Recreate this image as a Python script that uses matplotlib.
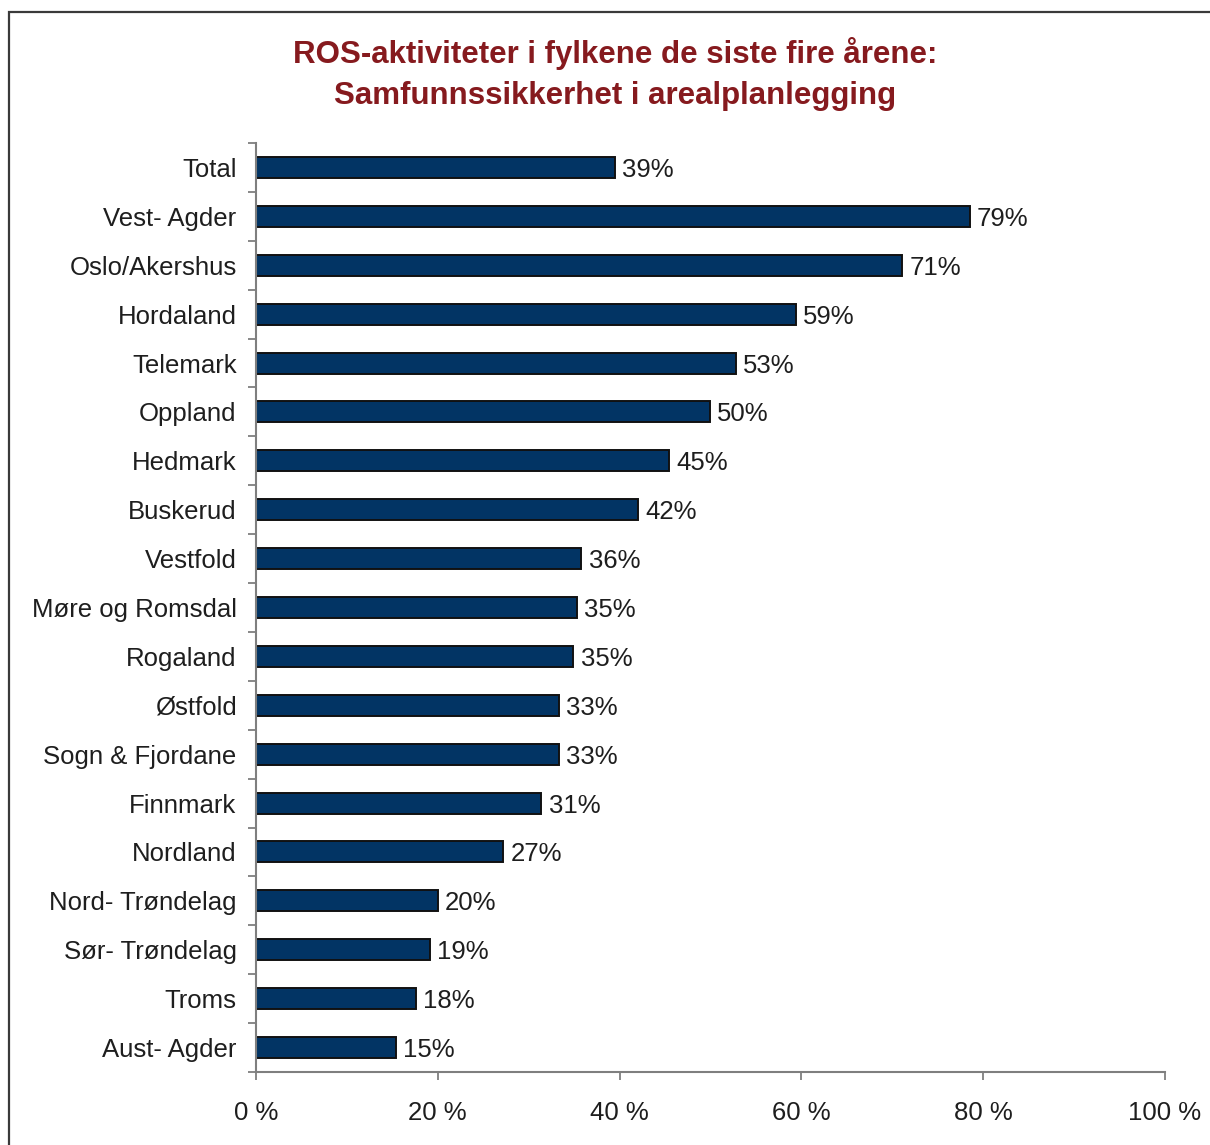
import matplotlib
matplotlib.use("Agg")
import matplotlib.pyplot as plt
from matplotlib.patches import Rectangle
from matplotlib.ticker import FixedLocator, FuncFormatter

# Data (top to bottom as in the chart)
fylker = [
    "Total", "Vest- Agder", "Oslo/Akershus", "Hordaland", "Telemark",
    "Oppland", "Hedmark", "Buskerud", "Vestfold", "Møre og Romsdal",
    "Rogaland", "Østfold", "Sogn & Fjordane", "Finnmark", "Nordland",
    "Nord- Trøndelag", "Sør- Trøndelag", "Troms", "Aust- Agder",
]
bar_values = [39.5, 78.5, 71.1, 59.4, 52.8, 49.9, 45.4, 42.0, 35.8, 35.3,
              34.9, 33.3, 33.3, 31.4, 27.2, 20.0, 19.1, 17.6, 15.4]
label_values = [39, 79, 71, 59, 53, 50, 45, 42, 36, 35,
                35, 33, 33, 31, 27, 20, 19, 18, 15]
x_ticks = [0, 20, 40, 60, 80, 100]

plt.rcParams["font.family"] = ["Liberation Sans", "DejaVu Sans"]
text_col = "#1e1e1e"
spine_col = "#7f7f7f"
fs = 18.5

W, H = 1210, 1145
fig = plt.figure(figsize=(W / 100, H / 100), dpi=100)
ax = fig.add_axes([256 / W, (H - 1072) / H, 909 / W, 929 / H])

ypos = list(range(len(fylker)))
ax.barh(ypos, bar_values, height=0.43, color="#023464",
        edgecolor="#111111", linewidth=1.4)

for y, bv, lv in zip(ypos, bar_values, label_values):
    ax.text(bv + 0.8, y, f"{lv}%", va="center_baseline", ha="left",
            fontsize=fs, color=text_col)

ax.set_xlim(0, 100)
ax.set_ylim(len(fylker) - 0.5, -0.5)

ax.set_yticks(ypos)
ax.set_yticklabels(fylker, fontsize=fs, color=text_col, va="center_baseline")
ax.yaxis.set_minor_locator(FixedLocator([i - 0.5 for i in range(len(fylker) + 1)]))
ax.tick_params(axis="y", which="major", length=0, pad=14)
ax.tick_params(axis="y", which="minor", length=6, width=1.3, color=spine_col, direction="out")

ax.set_xticks(x_ticks)
ax.xaxis.set_major_formatter(FuncFormatter(lambda v, p: f"{v:.0f} %"))
ax.tick_params(axis="x", length=6, width=1.3, color=spine_col, direction="out",
               pad=15, labelsize=fs, labelcolor=text_col)

for s in ["top", "right"]:
    ax.spines[s].set_visible(False)
for s in ["left", "bottom"]:
    ax.spines[s].set_color(spine_col)
    ax.spines[s].set_linewidth(1.5)

fig.text(615 / W, 1 - 53 / H, "ROS-aktiviteter i fylkene de siste fire årene:",
         ha="center", va="center", fontsize=22.5, fontweight="bold", color="#861A1E")
fig.text(615 / W, 1 - 96 / H, "Samfunnssikkerhet i arealplanlegging",
         ha="center", va="center", fontsize=22.5, fontweight="bold", color="#861A1E")

# outer frame (cut off at right and bottom edges like the source image)
fig.add_artist(Rectangle((8.5 / W, -0.1), 1.2, (H - 12.5) / H + 0.1,
                         transform=fig.transFigure, fill=False,
                         edgecolor="#3a3a3a", linewidth=1.6, clip_on=False))

fig.savefig("out.png", dpi=100)
